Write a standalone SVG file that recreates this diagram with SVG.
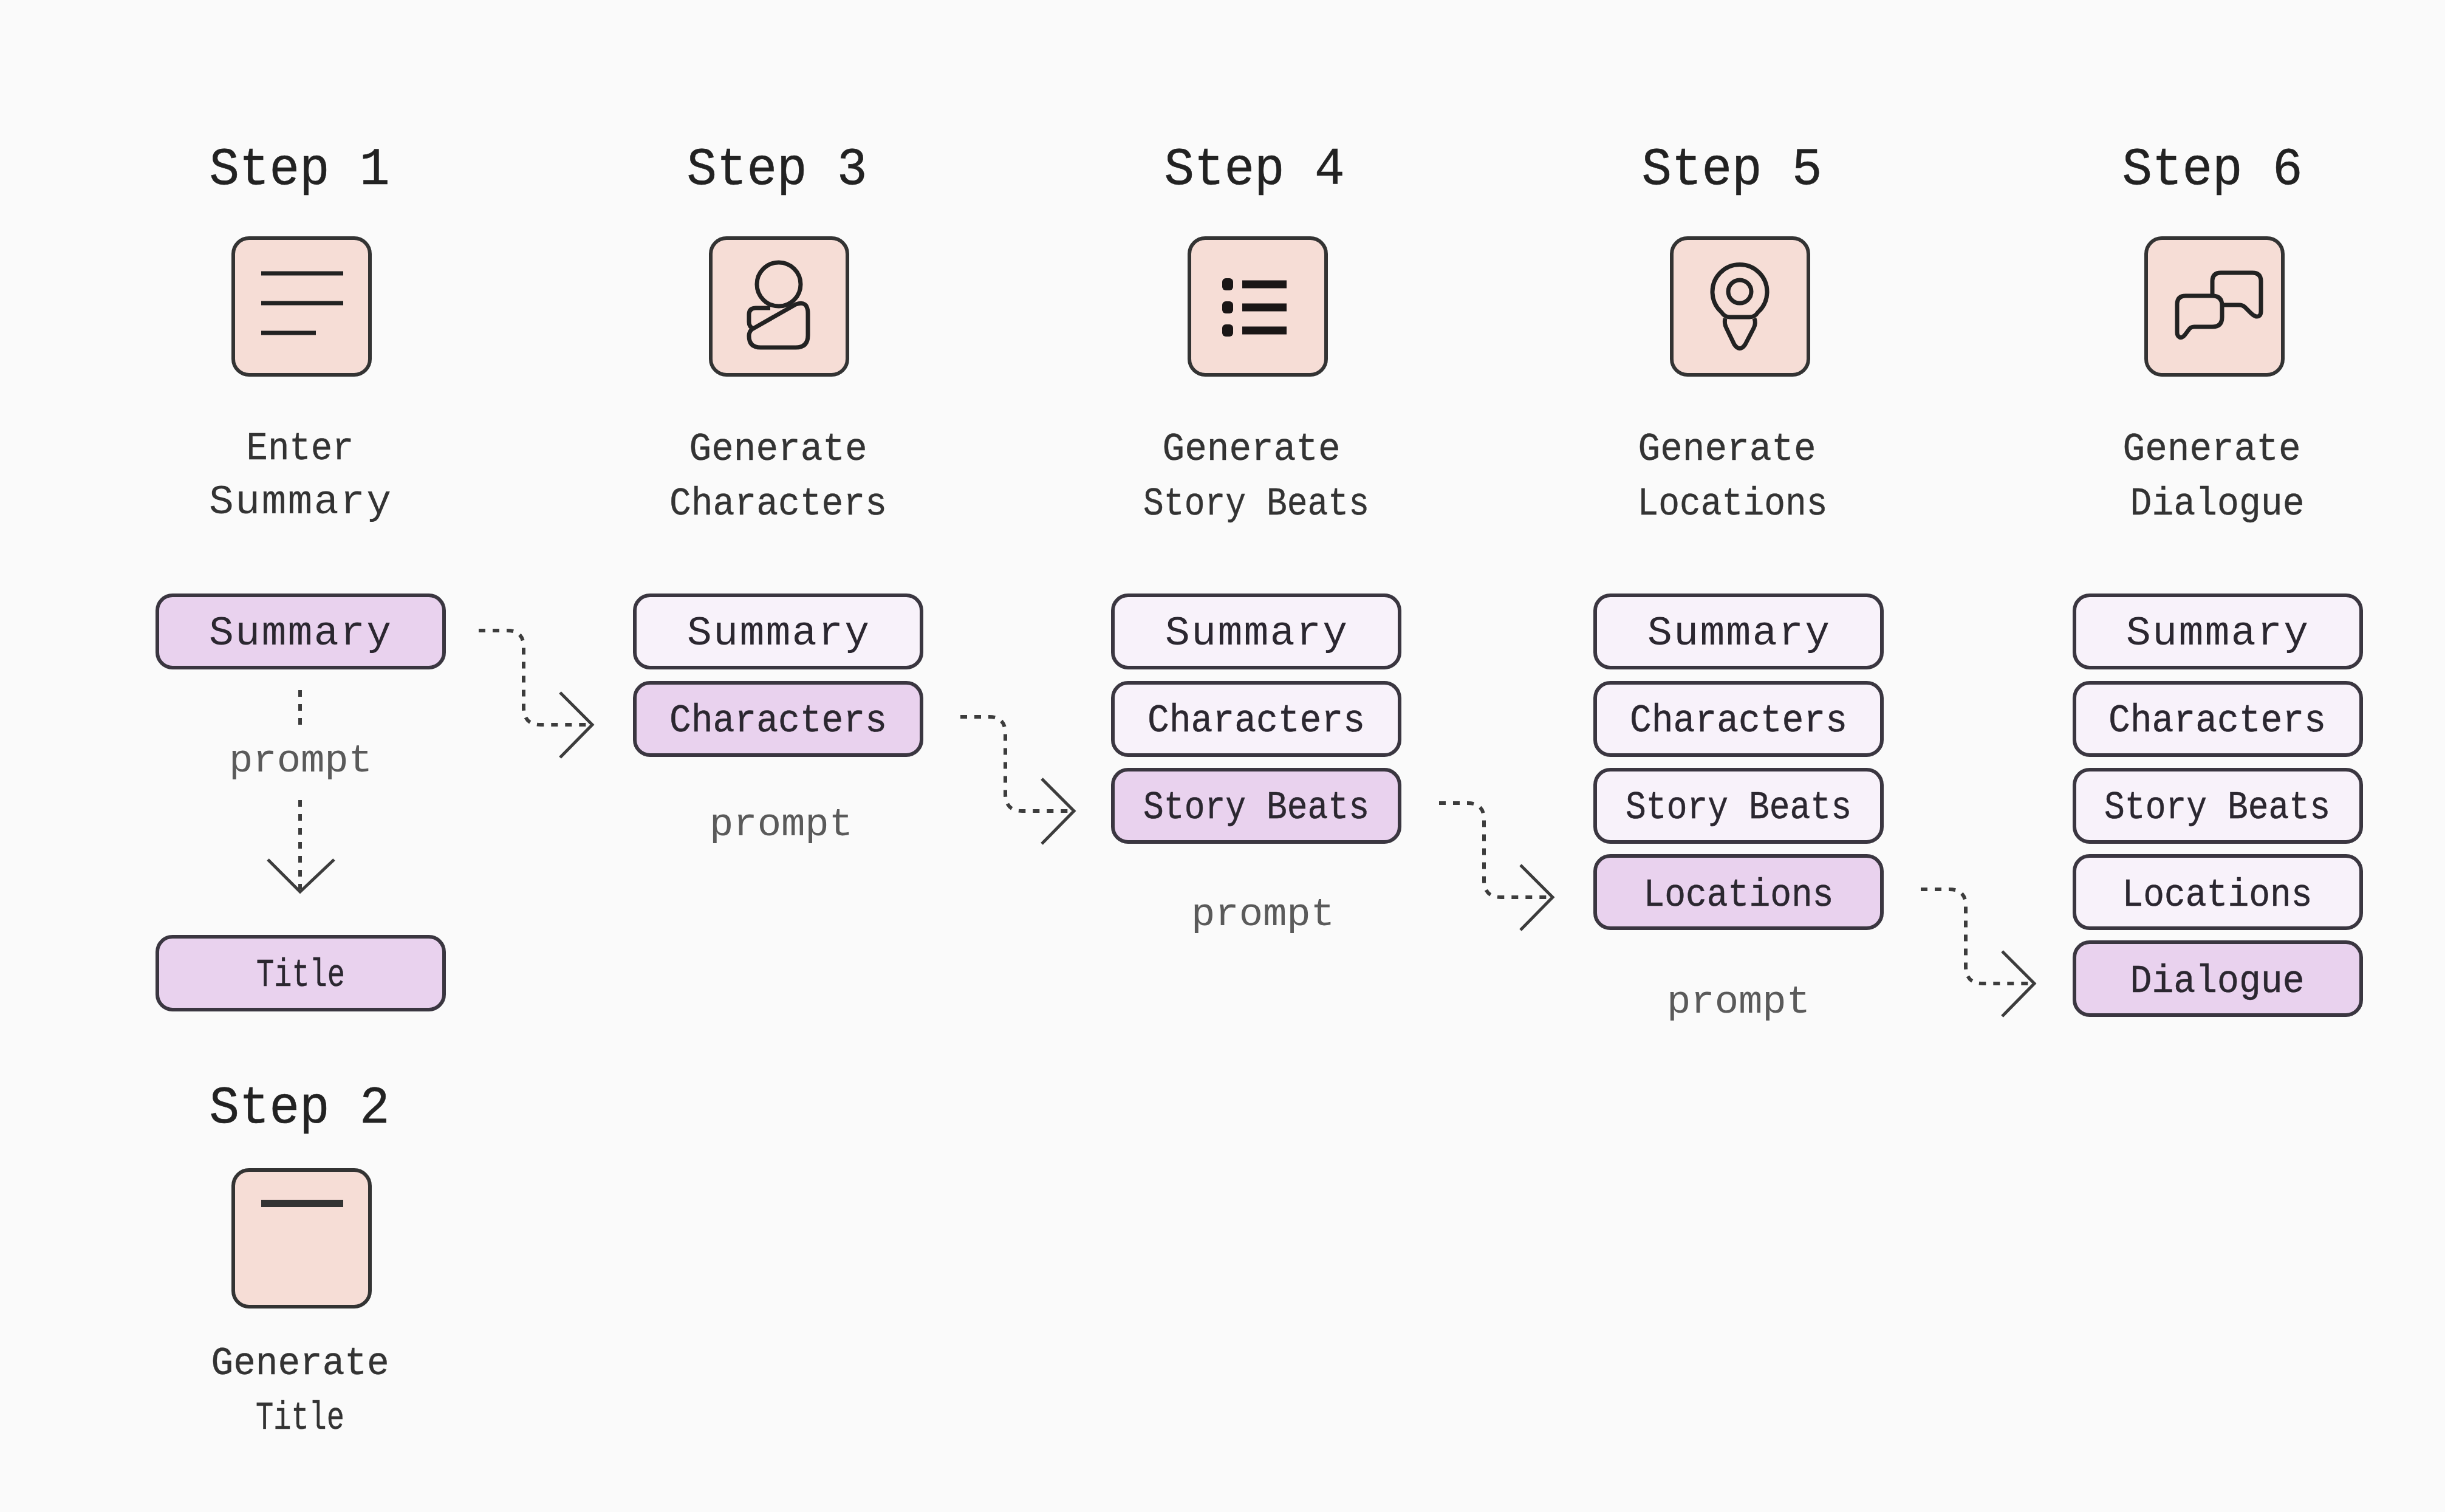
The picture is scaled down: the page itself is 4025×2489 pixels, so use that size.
<svg xmlns="http://www.w3.org/2000/svg" width="4025" height="2489" viewBox="0 0 4025 2489">
<style>
text{font-family:"Liberation Mono","DejaVu Sans Mono",monospace;text-anchor:middle;fill:#2b2730}
.step{font-size:88px;fill:#222;stroke:#222;stroke-width:.6}
.cap{font-size:64px;fill:#333;stroke:#333;stroke-width:.4}
.lbl{font-size:64px;stroke:#2b2730;stroke-width:.5}
.wide{font-size:68px;stroke:none}
.pr{font-size:64px;fill:#5a5a5a}
.icon{fill:#f6ddd6;stroke:#333;stroke-width:6}
.hi{fill:#e9d2ee;stroke:#3a3640;stroke-width:6}
.lo{fill:#f8f2fa;stroke:#3a3640;stroke-width:6}
.g{fill:none;stroke:#222;stroke-width:7;stroke-linejoin:round}
.dash{fill:none;stroke:#3c3c3c;stroke-width:6;stroke-dasharray:11 12}
.head{fill:none;stroke:#3c3c3c;stroke-width:5;stroke-linejoin:miter}
</style>
<rect width="4025" height="2489" fill="#fafafa"/>

<g id="connectors">
<path class="dash" d="M494 1136V1194"/>
<path class="dash" d="M494 1317V1464"/>
<path class="head" d="M441 1415L494 1468L550 1415"/>
<g id="c1">
<path class="dash" d="M788 1038H835Q862 1038 862 1065V1165Q862 1193 890 1193H972"/>
<path class="head" d="M922 1140L975 1193L922 1247"/>
</g>
<g id="c2" transform="translate(793 142)">
<path class="dash" d="M788 1038H835Q862 1038 862 1065V1165Q862 1193 890 1193H972"/>
<path class="head" d="M922 1140L975 1193L922 1247"/>
</g>
<g id="c3" transform="translate(1581 284)">
<path class="dash" d="M788 1038H835Q862 1038 862 1065V1165Q862 1193 890 1193H972"/>
<path class="head" d="M922 1140L975 1193L922 1247"/>
</g>
<g id="c4" transform="translate(2374 426)">
<path class="dash" d="M788 1038H835Q862 1038 862 1065V1165Q862 1193 890 1193H972"/>
<path class="head" d="M922 1140L975 1193L922 1247"/>
</g>
</g>

<g id="step1">
<text class="step" x="493" y="303" textLength="297" lengthAdjust="spacingAndGlyphs">Step 1</text>
<rect class="icon" x="384" y="392" width="225" height="225" rx="26"/>
<path class="g" d="M430 450H565M430 499H565M430 548H520"/>
<text class="cap" x="494" y="756" textLength="177" lengthAdjust="spacingAndGlyphs">Enter</text>
<text class="cap wide" x="494" y="845" textLength="300">Summary</text>
<rect class="hi" x="259" y="980" width="472" height="119" rx="25"/>
<text class="lbl wide" x="494" y="1061" textLength="300">Summary</text>
<text class="pr" x="495" y="1270" textLength="236" lengthAdjust="spacingAndGlyphs">prompt</text>
<rect class="hi" x="259" y="1542" width="472" height="120" rx="25"/>
<text class="lbl" x="495" y="1623" textLength="146" lengthAdjust="spacingAndGlyphs">Title</text>
</g>

<g id="step2">
<text class="step" x="493" y="1848" textLength="297" lengthAdjust="spacingAndGlyphs">Step 2</text>
<rect class="icon" x="384" y="1926" width="225" height="225" rx="26"/>
<path d="M430 1981H565" fill="none" stroke="#333" stroke-width="12"/>
<text class="cap" x="494" y="2262" textLength="293" lengthAdjust="spacingAndGlyphs">Generate</text>
<text class="cap" x="494" y="2352" textLength="146" lengthAdjust="spacingAndGlyphs">Title</text>
</g>

<g id="step3">
<text class="step" x="1279" y="303" textLength="297" lengthAdjust="spacingAndGlyphs">Step 3</text>
<rect class="icon" x="1170" y="392" width="225" height="225" rx="26"/>
<circle class="g" cx="1282" cy="468" r="36"/>
<path class="g" d="M1238 542L1310 501Q1330 494 1330 516V552Q1330 572 1310 572H1252Q1233 572 1233 553Q1233 546 1238 542Z"/>
<path class="g" d="M1268 507H1244Q1233 507 1233 518V530Q1233 538 1240 541"/>
<text class="cap" x="1281" y="757" textLength="293" lengthAdjust="spacingAndGlyphs">Generate</text>
<text class="cap" x="1281" y="847" textLength="358" lengthAdjust="spacingAndGlyphs">Characters</text>
<rect class="lo" x="1045" y="980" width="472" height="119" rx="25"/>
<text class="lbl wide" x="1281" y="1061" textLength="300">Summary</text>
<rect class="hi" x="1045" y="1124" width="472" height="119" rx="25"/>
<text class="lbl" x="1281" y="1204" textLength="358" lengthAdjust="spacingAndGlyphs">Characters</text>
<text class="pr" x="1286" y="1375" textLength="236" lengthAdjust="spacingAndGlyphs">prompt</text>
</g>

<g id="step4">
<text class="step" x="2065" y="303" textLength="297" lengthAdjust="spacingAndGlyphs">Step 4</text>
<rect class="icon" x="1958" y="392" width="225" height="225" rx="26"/>
<path d="M2045 468H2118M2045 506H2118M2045 544H2118" fill="none" stroke="#1a1616" stroke-width="13"/>
<rect x="2012" y="458" width="18" height="20" rx="6" fill="#1a1616"/>
<rect x="2012" y="496" width="18" height="20" rx="6" fill="#1a1616"/>
<rect x="2012" y="534" width="18" height="20" rx="6" fill="#1a1616"/>
<text class="cap" x="2060" y="757" textLength="293" lengthAdjust="spacingAndGlyphs">Generate</text>
<text class="cap" x="2068" y="847" textLength="372" lengthAdjust="spacingAndGlyphs">Story Beats</text>
<rect class="lo" x="1832" y="980" width="472" height="119" rx="25"/>
<text class="lbl wide" x="2068" y="1061" textLength="300">Summary</text>
<rect class="lo" x="1832" y="1124" width="472" height="119" rx="25"/>
<text class="lbl" x="2068" y="1204" textLength="358" lengthAdjust="spacingAndGlyphs">Characters</text>
<rect class="hi" x="1832" y="1267" width="472" height="119" rx="25"/>
<text class="lbl" x="2068" y="1347" textLength="372" lengthAdjust="spacingAndGlyphs">Story Beats</text>
<text class="pr" x="2079" y="1523" textLength="236" lengthAdjust="spacingAndGlyphs">prompt</text>
</g>

<g id="step5">
<text class="step" x="2851" y="303" textLength="297" lengthAdjust="spacingAndGlyphs">Step 5</text>
<rect class="icon" x="2752" y="392" width="225" height="225" rx="26"/>
<path class="g" d="M2834 514A45 45 0 1 1 2894 514Q2889 522 2880 522H2848Q2839 522 2834 514Z"/>
<circle class="g" cx="2864" cy="480" r="19"/>
<path class="g" d="M2840 524Q2838 532 2842 540L2855 567Q2864 580 2873 567L2887 540Q2891 532 2888 524"/>
<text class="cap" x="2843" y="757" textLength="293" lengthAdjust="spacingAndGlyphs">Generate</text>
<text class="cap" x="2852" y="847" textLength="313" lengthAdjust="spacingAndGlyphs">Locations</text>
<rect class="lo" x="2626" y="980" width="472" height="119" rx="25"/>
<text class="lbl wide" x="2862" y="1061" textLength="300">Summary</text>
<rect class="lo" x="2626" y="1124" width="472" height="119" rx="25"/>
<text class="lbl" x="2862" y="1204" textLength="358" lengthAdjust="spacingAndGlyphs">Characters</text>
<rect class="lo" x="2626" y="1267" width="472" height="119" rx="25"/>
<text class="lbl" x="2862" y="1347" textLength="372" lengthAdjust="spacingAndGlyphs">Story Beats</text>
<rect class="hi" x="2626" y="1409" width="472" height="119" rx="25"/>
<text class="lbl" x="2862" y="1491" textLength="313" lengthAdjust="spacingAndGlyphs">Locations</text>
<text class="pr" x="2862" y="1667" textLength="236" lengthAdjust="spacingAndGlyphs">prompt</text>
</g>

<g id="step6">
<text class="step" x="3642" y="303" textLength="297" lengthAdjust="spacingAndGlyphs">Step 6</text>
<rect class="icon" x="3533" y="392" width="225" height="225" rx="26"/>
<path class="g" d="M3642 487V463Q3642 449 3656 449H3708Q3722 449 3722 463V512Q3722 522 3714 521Q3710 520 3706 516L3696 506Q3692 502 3686 502H3658"/>
<path class="g" d="M3598 487H3642Q3658 487 3658 503V522Q3658 538 3642 538H3612Q3606 538 3603 543L3597 551Q3592 557 3588 555Q3584 553 3584 547V501Q3584 487 3598 487Z"/>
<text class="cap" x="3641" y="757" textLength="293" lengthAdjust="spacingAndGlyphs">Generate</text>
<text class="cap" x="3650" y="847" textLength="287" lengthAdjust="spacingAndGlyphs">Dialogue</text>
<rect class="lo" x="3415" y="980" width="472" height="119" rx="25"/>
<text class="lbl wide" x="3650" y="1061" textLength="300">Summary</text>
<rect class="lo" x="3415" y="1124" width="472" height="119" rx="25"/>
<text class="lbl" x="3650" y="1204" textLength="358" lengthAdjust="spacingAndGlyphs">Characters</text>
<rect class="lo" x="3415" y="1267" width="472" height="119" rx="25"/>
<text class="lbl" x="3650" y="1347" textLength="372" lengthAdjust="spacingAndGlyphs">Story Beats</text>
<rect class="lo" x="3415" y="1409" width="472" height="119" rx="25"/>
<text class="lbl" x="3650" y="1491" textLength="313" lengthAdjust="spacingAndGlyphs">Locations</text>
<rect class="hi" x="3415" y="1551" width="472" height="120" rx="25"/>
<text class="lbl" x="3650" y="1633" textLength="287" lengthAdjust="spacingAndGlyphs">Dialogue</text>
</g>
</svg>
